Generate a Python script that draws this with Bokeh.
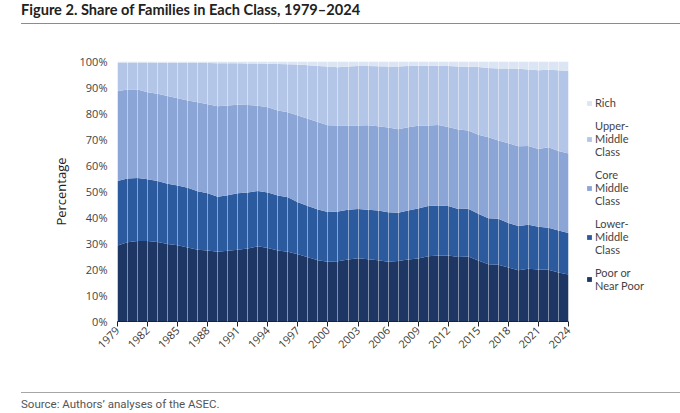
from bokeh.plotting import figure
from bokeh.layouts import column
from bokeh.models import (ColumnDataSource, FixedTicker, PrintfTickFormatter, Legend,
                          LegendItem, Div, Range1d)
from bokeh.embed import file_html
from bokeh.resources import INLINE
from bokeh.core.properties import value
import math

years = list(range(1979, 2025))
poor = [29.2, 30.5, 31.0, 31.0, 30.6, 29.8, 29.3, 28.5, 27.6, 27.3,
        26.8, 27.2, 27.6, 28.1, 28.9, 28.3, 27.3, 26.8, 25.9, 24.7,
        23.6, 23.0, 23.2, 23.8, 24.3, 23.9, 23.6, 23.0, 23.3, 23.8,
        24.2, 25.1, 25.4, 25.4, 24.8, 25.0, 23.5, 22.0, 21.8, 20.8,
        19.7, 20.3, 20.0, 19.9, 18.8, 18.1]
lower_middle = [24.8, 24.5, 24.2, 23.7, 23.4, 23.2, 23.0, 22.9, 22.5, 22.0,
                21.2, 21.4, 21.7, 21.5, 21.3, 21.3, 21.2, 21.0, 20.0, 19.7,
                19.5, 19.1, 19.1, 19.2, 19.0, 19.1, 19.1, 19.0, 18.5, 18.9,
                19.3, 19.3, 19.2, 19.0, 18.5, 18.4, 17.9, 17.7, 17.7, 17.1,
                17.0, 16.9, 16.4, 16.2, 16.2, 15.9]
core_middle = [34.6, 34.2, 34.0, 33.5, 33.6, 33.7, 33.6, 33.6, 34.2, 34.3,
               34.8, 34.5, 34.1, 33.7, 32.8, 32.8, 32.7, 32.7, 33.3, 33.6,
               33.6, 33.4, 33.1, 32.4, 32.1, 32.5, 32.4, 32.6, 32.1, 32.0,
               31.8, 31.0, 31.0, 30.4, 30.5, 30.1, 30.4, 31.2, 30.1, 30.7,
               30.7, 30.3, 29.9, 30.9, 30.6, 30.6]
upper_middle = [11.0, 10.4, 10.4, 11.4, 11.9, 12.8, 13.6, 14.4, 15.1, 15.8,
                16.5, 16.2, 15.9, 15.9, 16.2, 16.7, 17.8, 18.4, 19.6, 20.6,
                21.6, 22.6, 22.4, 22.7, 22.9, 22.8, 23.1, 23.5, 24.2, 23.6,
                23.1, 23.0, 22.8, 23.5, 24.3, 24.5, 26.1, 26.6, 27.7, 28.7,
                29.8, 29.4, 30.3, 29.8, 31.0, 31.7]
rich = [0.4, 0.4, 0.4, 0.4, 0.5, 0.5, 0.5, 0.6, 0.6, 0.6,
        0.7, 0.7, 0.7, 0.8, 0.8, 0.9, 1.0, 1.1, 1.2, 1.4,
        1.7, 1.9, 2.2, 1.9, 1.7, 1.7, 1.8, 1.9, 1.9, 1.7,
        1.6, 1.6, 1.6, 1.7, 1.9, 2.0, 2.1, 2.5, 2.7, 2.7,
        2.8, 3.1, 3.4, 3.2, 3.4, 3.7]

tick_years = list(range(1979, 2025, 3))
y_ticks = list(range(0, 101, 10))
series_keys = ["poor", "lower", "core", "upper", "rich"]
legend_labels = ["Poor or\nNear Poor", "Lower-\nMiddle\nClass", "Core\nMiddle\nClass",
                 "Upper-\nMiddle\nClass", "Rich"]
colors = ["#1d3663", "#2c5a9f", "#8ba6d6", "#b4c6e7", "#dce5f4"]

title_text = "Figure 2. Share of Families in Each Class, 1979\u20132024"
source_text = "Source: Authors\u2019 analyses of the ASEC."

W = 680
HEAD_H, MAIN_H, FOOT_H = 30, 350, 33
LEFT, PLOT_W = 117, 451          # plot area: 1979..2024 spans PLOT_W pixels
x0, x1 = years[0], years[-1]
# right-hand legend strip lives inside the frame, past the last year
x_end = x1 + (W - LEFT - PLOT_W) * (x1 - x0) / PLOT_W

# header (title + rule)
head = Div(width=W, height=HEAD_H, margin=0,
           text=('<div style="margin:2px 0 0 21px; width:659px; height:22px; '
                 'border-bottom:1px solid #8c8c8c; font-family:Lato; font-weight:700; '
                 'font-size:14.6px; line-height:16px; color:#222222; white-space:nowrap;">'
                 + title_text + '</div>'))

# main chart
src = ColumnDataSource(dict(year=years, poor=poor, lower=lower_middle, core=core_middle,
                            upper=upper_middle, rich=rich))

p = figure(width=W, height=MAIN_H, x_range=Range1d(x0, x_end), y_range=(0, 100),
           output_backend="svg", toolbar_location=None,
           min_border_left=LEFT, min_border_right=0, min_border_top=31, min_border_bottom=59)
p.outline_line_color = None

renderers = p.varea_stack(stackers=series_keys, x="year", color=colors, source=src)

p.ygrid.visible = False
p.xgrid.ticker = FixedTicker(ticks=years)
p.xgrid.grid_line_color = "white"
p.xgrid.grid_line_alpha = 0.45
p.xgrid.grid_line_width = 1
p.xgrid.level = "overlay"

p.xaxis.bounds = (x0, x1)
p.xaxis.ticker = FixedTicker(ticks=tick_years)
p.xaxis.major_label_orientation = math.pi / 4
p.xaxis.axis_line_color = "#222222"
p.xaxis.major_tick_line_color = "#222222"
p.xaxis.major_tick_out = 5
p.xaxis.major_tick_in = 0
p.xaxis.minor_tick_line_color = None
p.xaxis.major_label_text_font = "Open Sans"
p.xaxis.major_label_text_font_size = "11px"
p.xaxis.major_label_text_color = "#3a3a3a"
p.xaxis.major_label_standoff = 2

p.yaxis.ticker = FixedTicker(ticks=y_ticks)
p.yaxis.formatter = PrintfTickFormatter(format="%d%%")
p.yaxis.axis_line_color = None
p.yaxis.major_tick_line_color = None
p.yaxis.minor_tick_line_color = None
p.yaxis.major_label_text_font = "Open Sans"
p.yaxis.major_label_text_font_size = "11px"
p.yaxis.major_label_text_color = "#444444"
p.yaxis.major_label_standoff = 4
p.yaxis.axis_label = "Percentage"
p.yaxis.axis_label_text_font = "Open Sans"
p.yaxis.axis_label_text_font_style = "normal"
p.yaxis.axis_label_text_font_size = "13px"
p.yaxis.axis_label_text_color = "#222222"
p.yaxis.axis_label_standoff = 7

items = [LegendItem(label=value(legend_labels[i]), renderers=[renderers[i]])
         for i in range(len(series_keys) - 1, -1, -1)]
legend = Legend(items=items, location=(PLOT_W + 18, 29), orientation="vertical",
                glyph_width=6, glyph_height=6, label_height=6, label_standoff=3,
                spacing=10, padding=0, margin=0, border_line_color=None,
                background_fill_color=None, background_fill_alpha=0,
                label_text_font="Lato", label_text_font_size="11px",
                label_text_color="#444444", label_text_line_height=1.2)
p.add_layout(legend)

# footer (rule + source)
foot = Div(width=W, height=FOOT_H, margin=0,
           text=('<div style="margin:12px 0 0 21px; width:659px; border-top:1px solid #a6a6a6; '
                 'padding-top:5px; font-family:Roboto; font-size:11.5px; line-height:12px; '
                 'color:#555555; white-space:nowrap;">' + source_text + '</div>'))

layout = column(head, p, foot, spacing=0)
open("out.html", "w").write(file_html(layout, INLINE))
